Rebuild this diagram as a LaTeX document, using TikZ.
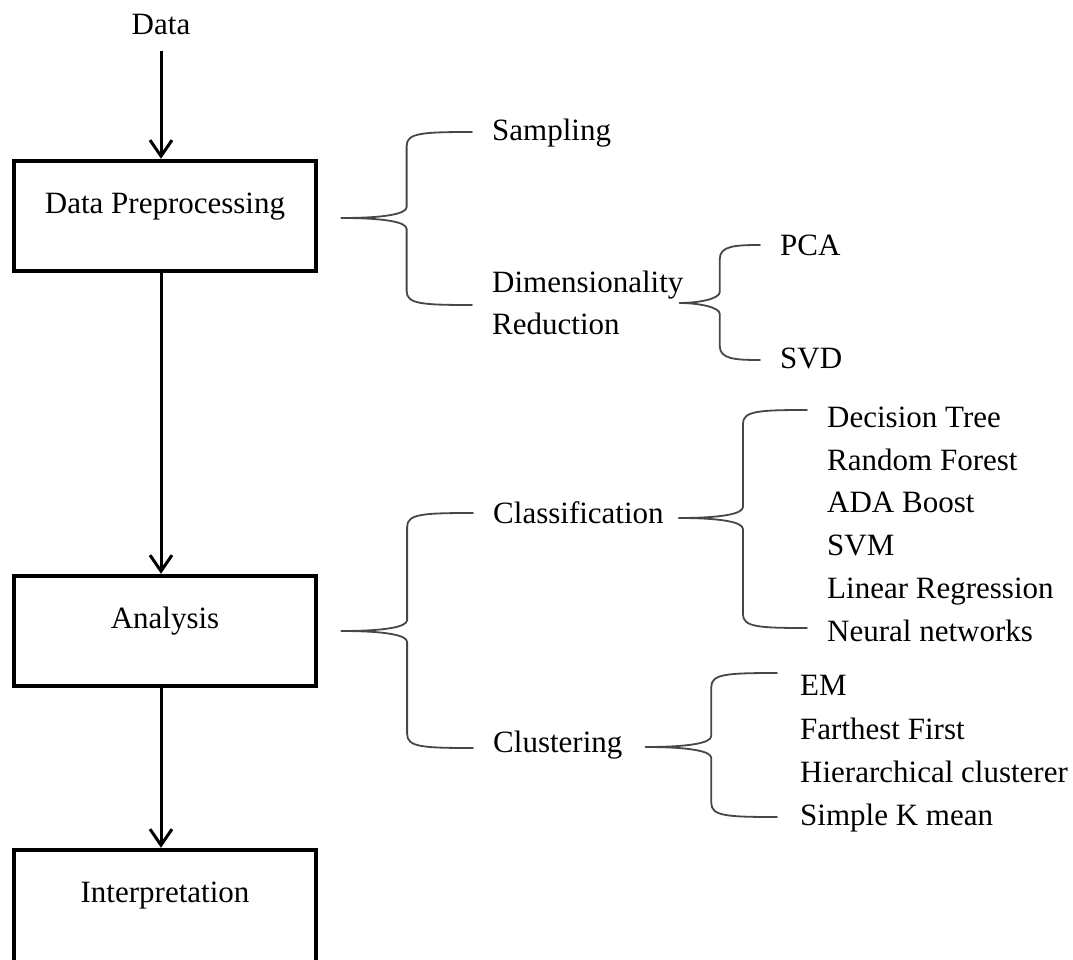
\documentclass[tikz,border=0pt]{standalone}
\usepackage{fontspec}
\setmainfont{Liberation Serif}
\usetikzlibrary{arrows.meta,calc}

% one unit = 1pt, y grows downwards
\tikzset{
  x=1pt, y=-1pt,
  txt/.style={font=\fontsize{31}{42}\selectfont},
  stage/.style={txt, draw, line width=4.5pt, minimum width=302pt,
    inner sep=0pt, text height=52pt, text depth=58pt, anchor=base},
  term/.style={txt, inner sep=0pt, anchor=base west},
  flow/.style={line width=3pt, -{Straight Barb[length=16pt,width=22pt]}},
  bracepath/.style={line width=1.8pt, draw=black!72, line cap=round},
}

% curly brace: #1 stem start, #2 upper arm end, #3 lower arm end
\newcommand\curlyjoin[3]{%
  \draw[bracepath] let \p1=(#1), \p2=(#2), \p3=(#3), \n1={(\x1+\x2)/2} in
    (\p1) .. controls ({\n1-22pt},\y1) and (\n1,{\y1+4pt}) .. (\n1,{\y1+11pt})
      -- (\n1,{\y2-14pt}) .. controls (\n1,{\y2-1pt}) and ({\n1+15pt},\y2) .. (\p2)
    (\p1) .. controls ({\n1-22pt},\y1) and (\n1,{\y1-4pt}) .. (\n1,{\y1-11pt})
      -- (\n1,{\y3+14pt}) .. controls (\n1,{\y3+1pt}) and ({\n1+15pt},\y3) .. (\p3);
}

\begin{document}
\begin{tikzpicture}
\useasboundingbox[fill=white] (0,0) rectangle (1073,960);

% main pipeline
\node[term, anchor=base] (data) at (161,35) {Data};
\node[stage] (pre) at (165,213) {Data Preprocessing};
\node[stage] (an) at (165,628) {Analysis};
\node[stage, text depth=68pt] (interp) at (165,902) {Interpretation};

\draw[flow, shorten <=15pt] (data.south) -- (data.south |- pre.north);
\draw[flow] (pre.south -| data.south) -- (an.north -| data.south);
\draw[flow] (an.south -| data.south) -- (interp.north -| data.south);

% preprocessing branch
\node[term] (samp) at (492,141) {Sampling};
\node[txt, inner sep=0pt, align=left, anchor=west] (dim) at (492,303) {Dimensionality\\Reduction};
\node[term] (pca) at (780,255) {PCA};
\node[term] (svd) at (780,368) {SVD};

% analysis branch
\node[term] (cls) at (493,523) {Classification};
\node[term] (clu) at (493,752) {Clustering};

\node[term] (dt) at (827,427) {Decision Tree};
\node[term] (rf) at (827,470) {Random Forest};
\node[term] (ada) at (827,512) {ADA Boost};
\node[term] (svm) at (827,555) {SVM};
\node[term] (lr) at (827,598) {Linear Regression};
\node[term] (nn) at (827,641) {Neural networks};

\node[term] (em) at (800,695) {EM};
\node[term] (ff) at (800,739) {Farthest First};
\node[term] (hc) at (800,782) {Hierarchical clusterer};
\node[term] (skm) at (800,825) {Simple K mean};

% braces
\curlyjoin{$(pre.east)+(23pt,-2pt)$}{$(samp.base west)+(-20pt,9pt)$}{$(dim.west)+(-20pt,-2pt)$}
\curlyjoin{$(dim.east)+(-4pt,0pt)$}{$(pca.base west)+(-20pt,10pt)$}{$(svd.base west)+(-20pt,8pt)$}
\curlyjoin{$(an.east)+(23pt,0pt)$}{$(cls.base west)+(-20pt,10pt)$}{$(clu.base west)+(-20pt,4pt)$}
\curlyjoin{$(cls.base east)+(15pt,5pt)$}{$(dt.base west)+(-20pt,17pt)$}{$(nn.base west)+(-20pt,13pt)$}
\curlyjoin{$(clu.base east)+(23pt,5pt)$}{$(em.base west)+(-23pt,22pt)$}{$(skm.base west)+(-23pt,8pt)$}
\end{tikzpicture}
\end{document}
